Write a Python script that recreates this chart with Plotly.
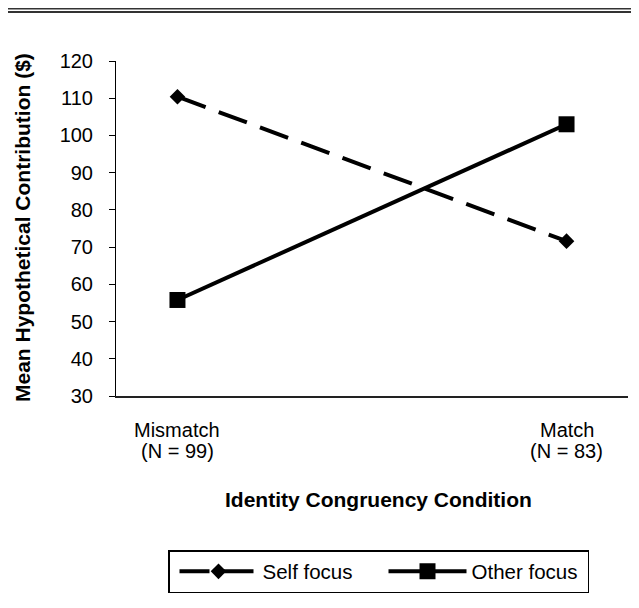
import plotly.graph_objects as go

# ---- data ----
categories = ["Mismatch", "Match"]
group_sizes = ["(N = 99)", "(N = 83)"]
self_focus = [110.4, 71.6]
other_focus = [55.8, 103.0]
y_ticks = [30, 40, 50, 60, 70, 80, 90, 100, 110, 120]
series_names = ["Self focus", "Other focus"]

FONT = "Liberation Sans, Arial, Helvetica, sans-serif"
W, H = 631, 600           # page has an 8px body margin
L, R, T, B = 108, 11, 53, 212
plot_w = W - L - R
plot_h = H - T - B
OFF = 8                   # page offset of the figure

def px_to_paper_x(px):    # px in page coordinates
    return (px - OFF - L) / plot_w

def px_to_paper_y(py):    # py in page coordinates
    return (H - B - (py - OFF)) / plot_h

x_idx = list(range(len(categories)))

fig = go.Figure()
fig.add_trace(go.Scatter(
    x=x_idx, y=self_focus, name=series_names[0], mode="lines+markers",
    line=dict(color="black", width=4, dash="30px,14px"),
    marker=dict(symbol="diamond", size=12, color="black", line=dict(width=0)),
))
fig.add_trace(go.Scatter(
    x=x_idx, y=other_focus, name=series_names[1], mode="lines+markers",
    line=dict(color="black", width=4),
    marker=dict(symbol="square", size=16, color="black", line=dict(width=0)),
))

annotations = []
for i, (c, n) in enumerate(zip(categories, group_sizes)):
    annotations.append(dict(x=i, y=0, xref="x", yref="paper", text=c, showarrow=False,
                            yanchor="middle", yshift=-33.5, font=dict(size=20, family=FONT, color="black")))
    annotations.append(dict(x=i, y=0, xref="x", yref="paper", text=n, showarrow=False,
                            yanchor="middle", yshift=-54.5, font=dict(size=20, family=FONT, color="black")))

# axis titles
annotations.append(dict(x=px_to_paper_x(378), y=px_to_paper_y(499), xref="paper", yref="paper",
                        text="<b>Identity Congruency Condition</b>", showarrow=False,
                        yanchor="middle", xanchor="center",
                        font=dict(size=21, family=FONT, color="black")))
annotations.append(dict(x=px_to_paper_x(22), y=px_to_paper_y(228), xref="paper", yref="paper",
                        text="<b>Mean Hypothetical Contribution ($)</b>", showarrow=False,
                        textangle=-90, xanchor="center", yanchor="middle",
                        font=dict(size=21, family=FONT, color="black")))

shapes = [
    dict(type="line", xref="paper", yref="paper",
         x0=px_to_paper_x(8), x1=px_to_paper_x(W + OFF + 2),
         y0=px_to_paper_y(8.7), y1=px_to_paper_y(8.7),
         line=dict(color="#333", width=1.5)),
    dict(type="line", xref="paper", yref="paper",
         x0=px_to_paper_x(8), x1=px_to_paper_x(W + OFF + 2),
         y0=px_to_paper_y(12), y1=px_to_paper_y(12),
         line=dict(color="#333", width=2)),
]

fig.update_layout(
    width=W, height=H,
    margin=dict(l=L, r=R, t=T, b=B, pad=0, autoexpand=False),
    paper_bgcolor="white", plot_bgcolor="white",
    font=dict(family=FONT, size=20, color="black"),
    showlegend=True,
    legend=dict(orientation="h", x=px_to_paper_x(168), y=px_to_paper_y(550),
                xanchor="left", yanchor="top", bordercolor="black", borderwidth=1.5,
                bgcolor="white", font=dict(size=20.5, family=FONT, color="black"),
                itemwidth=78, indentation=5, entrywidth=111, entrywidthmode="pixels",
                traceorder="normal"),
    xaxis=dict(range=[-0.158, 1.158], showticklabels=False, showgrid=False, zeroline=False,
               showline=True, linecolor="#222", linewidth=1.5, ticks=""),
    yaxis=dict(range=[30, 120], tickvals=y_ticks, showgrid=False, zeroline=False,
               showline=True, linecolor="black", linewidth=1, ticks="outside", ticklen=6,
               tickcolor="black", tickfont=dict(size=20, family=FONT, color="black"),
               ticklabelstandoff=12),
    annotations=annotations,
    shapes=shapes,
)

fig.write_html("out.html")
